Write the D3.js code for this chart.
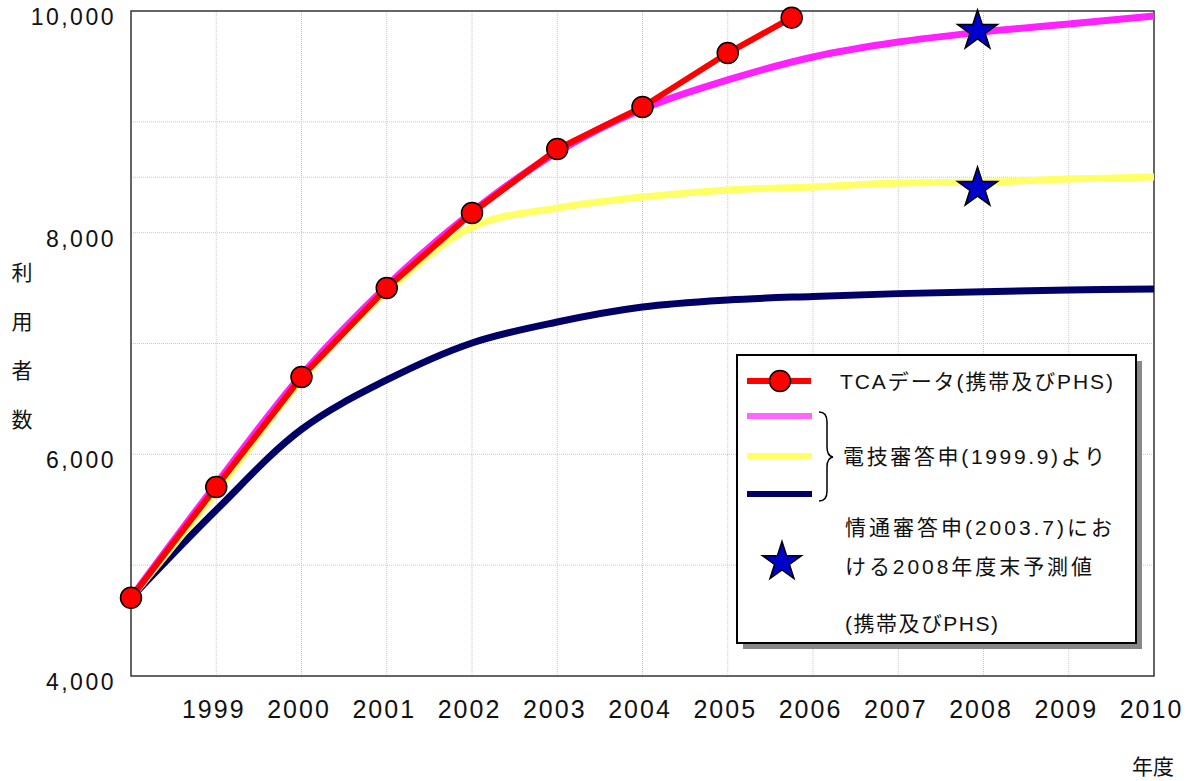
<!DOCTYPE html>
<html>
<head>
<meta charset="utf-8">
<script src="https://cdn.jsdelivr.net/npm/d3@7"></script>
<style>
  body { margin: 0; background: #fff; }
  text { font-family: "Liberation Sans", "Noto Sans CJK JP", sans-serif; fill: #111; }
</style>
</head>
<body>
<div id="chart"></div>
<script>
// Years along the x axis (fiscal years)
const years = [1998, 1999, 2000, 2001, 2002, 2003, 2004, 2005, 2006, 2007, 2008, 2009, 2010];
const xTickYears = [1999, 2000, 2001, 2002, 2003, 2004, 2005, 2006, 2007, 2008, 2009, 2010];

// TCA actual subscriber data (mobile + PHS), last point is mid FY2005
const tcaYears = [1998, 1999, 2000, 2001, 2002, 2003, 2004, 2005, 2005.75];
const tcaValues = [4706, 5705, 6698, 7501, 8178, 8755, 9134, 9621, 9940];

// 電技審答申(1999.9) forecast scenarios
const highValues = [4706, 5732, 6716, 7519, 8187, 8728, 9116, 9378, 9585, 9720, 9811, 9883, 9955];
const midValues = [4706, 5660, 6670, 7465, 8051, 8223, 8322, 8385, 8412, 8448, 8457, 8484, 8502];
const lowValues = [4706, 5498, 6225, 6671, 7005, 7194, 7329, 7393, 7425, 7450, 7468, 7483, 7492];

// 情通審答申(2003.7) end of FY2008 forecasts
const starYear = 2007.93;
const starValues = [9820, 8403];

// Axis ticks and grid
const yTickValues = [4000, 6000, 8000, 10000];
const yGridValues = [5000, 6000, 7000, 8000, 8500, 9000];
const xGridYears = [1999, 2000, 2001, 2002, 2003, 2004, 2005, 2006, 2007, 2008, 2009];

// Legend texts
const legendTca = "TCAデータ(携帯及びPHS)";
const legendForecast = "電技審答申(1999.9)より";
const legendStar = ["情通審答申(2003.7)にお", "ける2008年度末予測値", "(携帯及びPHS)"];
const yTitle = ["利", "用", "者", "数"];
const xTitle = "年度";

const config = {
  width: 1195,
  height: 781,
  left: 131,
  right: 1154,
  top: 11,
  bottom: 676
};

const svg = d3.select('#chart')
  .append('svg')
    .attr('width', config.width)
    .attr('height', config.height);

const x = d3.scaleLinear().domain([1998, 2010]).range([config.left, config.right]);
const y = d3.scaleLinear().domain([4000, 10000]).range([config.bottom, config.top]);

// Grid lines
svg.append('g')
  .selectAll('line')
  .data(yGridValues)
  .join('line')
    .attr('x1', config.left).attr('x2', config.right)
    .attr('y1', d => y(d)).attr('y2', d => y(d))
    .attr('stroke', '#c8c8c8')
    .attr('stroke-dasharray', '1,1');

svg.append('g')
  .selectAll('line')
  .data(xGridYears)
  .join('line')
    .attr('x1', d => x(d)).attr('x2', d => x(d))
    .attr('y1', config.top).attr('y2', config.bottom)
    .attr('stroke', '#c8c8c8')
    .attr('stroke-dasharray', '1,1');

// Plot frame
svg.append('rect')
  .attr('x', config.left)
  .attr('y', config.top)
  .attr('width', config.right - config.left)
  .attr('height', config.bottom - config.top)
  .attr('fill', 'none')
  .attr('stroke', '#333')
  .attr('stroke-width', 1.5);

// Axes
const yAxis = svg.append('g')
  .attr('transform', `translate(${config.left},0)`)
  .call(d3.axisLeft(y).tickValues(yTickValues).tickFormat(d3.format(',')).tickSize(0).tickPadding(15));
yAxis.select('.domain').remove();
yAxis.selectAll('text')
  .attr('y', 6)
  .style('font-size', '23px')
  .style('letter-spacing', '2.5px')
  .style('font-family', '"Liberation Sans", sans-serif')
  .attr('fill', '#111');

const xAxis = svg.append('g')
  .attr('transform', `translate(0,${config.bottom})`)
  .call(d3.axisBottom(x).tickValues(xTickYears).tickFormat(d3.format('d')).tickSize(0).tickPadding(24));
xAxis.select('.domain').remove();
xAxis.selectAll('text')
  .attr('dx', -3)
  .style('font-size', '25px')
  .style('letter-spacing', '2px')
  .style('font-family', '"Liberation Sans", sans-serif')
  .attr('fill', '#111');

// Axis titles
svg.append('g')
  .selectAll('text')
  .data(yTitle)
  .join('text')
    .attr('x', 22)
    .attr('y', (d, i) => 280 + i * 49)
    .attr('text-anchor', 'middle')
    .style('font-size', '21px')
    .text(d => d);

svg.append('text')
  .attr('x', 1153)
  .attr('y', 774)
  .attr('text-anchor', 'middle')
  .style('font-size', '21px')
  .text(xTitle);

// Forecast curves
const smooth = d3.line()
  .x((d, i) => x(years[i]))
  .y(d => y(d))
  .curve(d3.curveCatmullRom.alpha(0.5));

const forecasts = [
  { values: lowValues, color: '#000066' },
  { values: midValues, color: '#ffff66' },
  { values: highValues, color: '#ff22ff' }
];

svg.append('g')
  .selectAll('path')
  .data(forecasts)
  .join('path')
    .attr('d', d => smooth(d.values))
    .attr('fill', 'none')
    .attr('stroke', d => d.color)
    .attr('stroke-width', 7);

// TCA line with markers
const tcaLine = d3.line()
  .x((d, i) => x(tcaYears[i]))
  .y(d => y(d));

svg.append('path')
  .attr('d', tcaLine(tcaValues))
  .attr('fill', 'none')
  .attr('stroke', '#ff0000')
  .attr('stroke-width', 6);

svg.append('g')
  .selectAll('circle')
  .data(tcaValues)
  .join('circle')
    .attr('cx', (d, i) => x(tcaYears[i]))
    .attr('cy', d => y(d))
    .attr('r', 10.5)
    .attr('fill', '#ff0000')
    .attr('stroke', '#000')
    .attr('stroke-width', 1.5);

// Stars
const star = d3.symbol(d3.symbolStar, 495);
svg.append('g')
  .selectAll('path')
  .data(starValues)
  .join('path')
    .attr('transform', d => `translate(${x(starYear)},${y(d)})`)
    .attr('d', star)
    .attr('fill', '#0000cc')
    .attr('stroke', '#000')
    .attr('stroke-width', 1.5);

// Legend
function drawLegend() {
  const lg = svg.append('g');
  lg.append('rect')
    .attr('x', 743).attr('y', 361)
    .attr('width', 399).attr('height', 288)
    .attr('fill', '#888');
  lg.append('rect')
    .attr('x', 737).attr('y', 355)
    .attr('width', 399).attr('height', 288)
    .attr('fill', '#fff')
    .attr('stroke', '#000')
    .attr('stroke-width', 2);

  lg.append('line')
    .attr('x1', 747).attr('x2', 811).attr('y1', 381).attr('y2', 381)
    .attr('stroke', '#ff0000').attr('stroke-width', 6);
  lg.append('circle')
    .attr('cx', 780).attr('cy', 381).attr('r', 10.5)
    .attr('fill', '#ff0000').attr('stroke', '#000').attr('stroke-width', 1.5);

  const swatches = [
    { color: '#ff66ff', y: 416 },
    { color: '#ffff66', y: 456 },
    { color: '#000066', y: 494 }
  ];
  lg.selectAll('line.sw')
    .data(swatches)
    .join('line')
      .attr('x1', 747).attr('x2', 812)
      .attr('y1', d => d.y).attr('y2', d => d.y)
      .attr('stroke', d => d.color)
      .attr('stroke-width', 6);

  // Brace grouping the three forecast lines
  lg.append('path')
    .attr('d', 'M819,412 Q827,412 827,422 L827,447 Q827,456 833,457 Q827,458 827,467 L827,491 Q827,501 819,501')
    .attr('fill', 'none')
    .attr('stroke', '#000')
    .attr('stroke-width', 1.5);

  lg.append('path')
    .attr('transform', 'translate(782,562)')
    .attr('d', d3.symbol(d3.symbolStar, 470))
    .attr('fill', '#0000cc')
    .attr('stroke', '#000')
    .attr('stroke-width', 1.5);

  const texts = [
    { t: legendTca, x: 840, y: 389, len: 273 },
    { t: legendForecast, x: 843, y: 464, len: 262 },
    { t: legendStar[0], x: 845, y: 535, len: 267 },
    { t: legendStar[1], x: 845, y: 574, len: 247 },
    { t: legendStar[2], x: 845, y: 631, len: 153 }
  ];
  lg.selectAll('text')
    .data(texts)
    .join('text')
      .attr('x', d => d.x)
      .attr('y', d => d.y)
      .attr('textLength', d => d.len)
      .attr('lengthAdjust', 'spacing')
      .style('font-size', '21px')
      .text(d => d.t);
}

drawLegend();
</script>
</body>
</html>
